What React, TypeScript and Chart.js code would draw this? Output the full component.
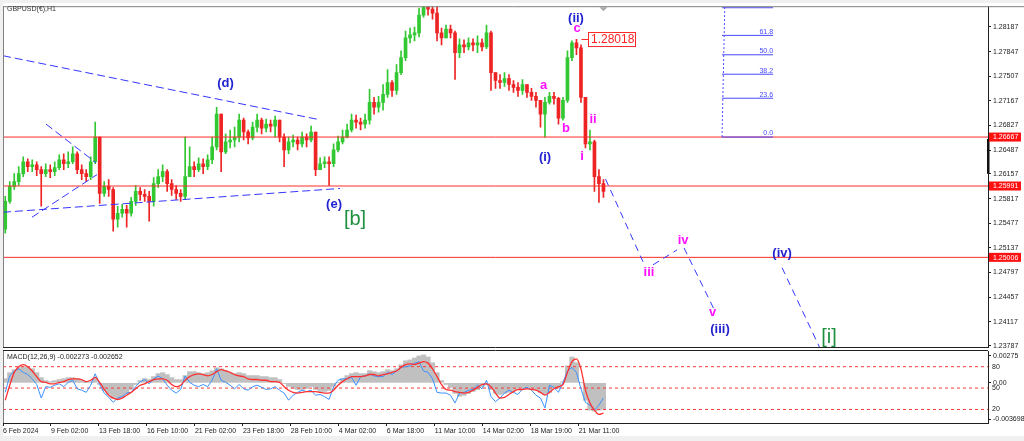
import React, { useEffect, useRef } from 'react';
import { Chart, registerables } from 'chart.js';

Chart.register(...registerables);

// ---------- DATA ----------
const BAR_HOURS = 6; // each drawn candle aggregates 6 H1 bars
const FIRST_OPEN = 1.25396;
const CLOSES = [
  1.25779, 1.25985, 1.26051, 1.26162, 1.26326, 1.26258, 1.26285, 1.26217, 1.26162, 1.26217,
  1.26189, 1.26244, 1.26354, 1.26299, 1.26326, 1.26436, 1.26217, 1.26162, 1.26121, 1.26326,
  1.26667, 1.25889, 1.25985, 1.25943, 1.25533, 1.25615, 1.25670, 1.25615, 1.25779, 1.25916,
  1.25875, 1.25847, 1.25779, 1.26025, 1.26121, 1.26189, 1.26025, 1.25943, 1.25889, 1.25847,
  1.26121, 1.26258, 1.26217, 1.26299, 1.26258, 1.26354, 1.26531, 1.26983, 1.26463, 1.26600,
  1.26627, 1.26667, 1.26901, 1.26737, 1.26655, 1.26805, 1.26901, 1.26791, 1.26846, 1.26819,
  1.26901, 1.26667, 1.26490, 1.26600, 1.26627, 1.26573, 1.26667, 1.26627, 1.26737, 1.26217,
  1.26299, 1.26326, 1.26299, 1.26490, 1.26600, 1.26667, 1.26764, 1.26901, 1.26873, 1.26846,
  1.26901, 1.27147, 1.27079, 1.27147, 1.27257, 1.27421, 1.27311, 1.27557, 1.27763, 1.28036,
  1.28077, 1.28105, 1.28351, 1.28460, 1.28433, 1.28378, 1.28105, 1.28036, 1.28159, 1.28105,
  1.27831, 1.27941, 1.27913, 1.27968, 1.27941, 1.27968, 1.27913, 1.28105, 1.27557, 1.27448,
  1.27421, 1.27475, 1.27393, 1.27352, 1.27311, 1.27393, 1.27284, 1.27229, 1.27174, 1.26983,
  1.27147, 1.27229, 1.27202, 1.26928, 1.27174, 1.27763, 1.27968, 1.27899, 1.27215, 1.26573,
  1.26600, 1.26121, 1.26025, 1.25916,
];
const HIGHS = [
  1.25847, 1.26051, 1.26162, 1.26258, 1.26395, 1.26367, 1.26354, 1.26326, 1.26258, 1.26299,
  1.26285, 1.26326, 1.26422, 1.26436, 1.26463, 1.26531, 1.26463, 1.26285, 1.26217, 1.26395,
  1.26873, 1.26667, 1.26051, 1.26080, 1.25971, 1.25711, 1.25738, 1.25724, 1.25834, 1.25998,
  1.25971, 1.25943, 1.25916, 1.26107, 1.26217, 1.26285, 1.26217, 1.26080, 1.25998, 1.25943,
  1.26667, 1.26531, 1.26326, 1.26381, 1.26367, 1.26422, 1.26667, 1.27079, 1.26901, 1.26710,
  1.26764, 1.26805, 1.26983, 1.26928, 1.26764, 1.26873, 1.26983, 1.26928, 1.26915, 1.26901,
  1.26955, 1.26901, 1.26710, 1.26667, 1.26696, 1.26667, 1.26737, 1.26710, 1.26819, 1.26737,
  1.26381, 1.26395, 1.26395, 1.26573, 1.26682, 1.26764, 1.26846, 1.26983, 1.26969, 1.26928,
  1.26983, 1.27325, 1.27215, 1.27229, 1.27393, 1.27599, 1.27448, 1.27667, 1.27858, 1.28132,
  1.28173, 1.28187, 1.28447, 1.28789, 1.28789, 1.28652, 1.28474, 1.28173, 1.28214, 1.28214,
  1.28132, 1.28023, 1.28009, 1.28036, 1.28023, 1.28064, 1.28023, 1.28214, 1.28132, 1.27557,
  1.27530, 1.27557, 1.27530, 1.27448, 1.27421, 1.27462, 1.27393, 1.27339, 1.27284, 1.27174,
  1.27215, 1.27284, 1.27284, 1.27215, 1.27215, 1.27858, 1.27995, 1.28018, 1.27941, 1.27215,
  1.26764, 1.26627, 1.26217, 1.26080,
];
const LOWS = [
  1.25341, 1.25752, 1.25943, 1.25998, 1.26121, 1.26189, 1.26189, 1.26135, 1.25711, 1.26121,
  1.26107, 1.26135, 1.26217, 1.26217, 1.26244, 1.26299, 1.26162, 1.26080, 1.26051, 1.26080,
  1.26299, 1.25752, 1.25847, 1.25847, 1.25369, 1.25423, 1.25560, 1.25423, 1.25574, 1.25724,
  1.25793, 1.25779, 1.25505, 1.25711, 1.25971, 1.26051, 1.25916, 1.25861, 1.25806, 1.25779,
  1.25806, 1.26162, 1.26121, 1.26189, 1.26162, 1.26217, 1.26299, 1.26490, 1.26189, 1.26436,
  1.26518, 1.26531, 1.26600, 1.26627, 1.26573, 1.26627, 1.26737, 1.26710, 1.26737, 1.26737,
  1.26667, 1.26600, 1.26258, 1.26436, 1.26531, 1.26490, 1.26531, 1.26531, 1.26600, 1.26135,
  1.26217, 1.26244, 1.25998, 1.26258, 1.26463, 1.26573, 1.26655, 1.26737, 1.26791, 1.26764,
  1.26791, 1.26846, 1.26983, 1.27010, 1.27037, 1.27215, 1.27229, 1.27257, 1.27530, 1.27722,
  1.27968, 1.27995, 1.28050, 1.28323, 1.28351, 1.28296, 1.27995, 1.27941, 1.28077, 1.28036,
  1.27462, 1.27763, 1.27831, 1.27872, 1.27858, 1.27831, 1.27858, 1.27886, 1.27311, 1.27339,
  1.27339, 1.27366, 1.27311, 1.27284, 1.27229, 1.27257, 1.27215, 1.27174, 1.27079, 1.26805,
  1.26667, 1.27120, 1.27120, 1.26846, 1.26901, 1.27147, 1.27722, 1.27804, 1.27147, 1.26518,
  1.26490, 1.25916, 1.25765, 1.25834,
];
const MACD_HIST = [
  0.00043, 0.00104, 0.00134, 0.00154, 0.00164, 0.00164, 0.00144, 0.00104, 0.00053, 0.00023,
  0.00013, 0.00023, 0.00033, 0.00043, 0.00053, 0.00053, 0.00043, 0.00023, 0.00003, 0.00013,
  0.00053, -0.00017, -0.00078, -0.00118, -0.00158, -0.00168, -0.00148, -0.00118, -0.00068, -0.00017,
  0.00023, 0.00043, 0.00033, 0.00064, 0.00094, 0.00104, 0.00084, 0.00053, 0.00033, 0.00033,
  0.00074, 0.00114, 0.00114, 0.00104, 0.00094, 0.00104, 0.00124, 0.00154, 0.00144, 0.00124,
  0.00104, 0.00094, 0.00104, 0.00094, 0.00074, 0.00074, 0.00074, 0.00064, 0.00064, 0.00053,
  0.00053, 0.00033, -0.00007, -0.00037, -0.00057, -0.00068, -0.00068, -0.00057, -0.00037, -0.00068,
  -0.00088, -0.00088, -0.00078, -0.00037, 0.00003, 0.00043, 0.00074, 0.00094, 0.00104, 0.00094,
  0.00094, 0.00124, 0.00114, 0.00104, 0.00114, 0.00134, 0.00124, 0.00144, 0.00184, 0.00225,
  0.00234, 0.00254, 0.00275, 0.00285, 0.00264, 0.00205, 0.00104, 0.00023, -0.00017, -0.00047,
  -0.00108, -0.00138, -0.00128, -0.00108, -0.00088, -0.00068, -0.00037, -0.00017, -0.00068, -0.00108,
  -0.00118, -0.00108, -0.00098, -0.00078, -0.00057, -0.00047, -0.00047, -0.00057, -0.00068, -0.00098,
  -0.00118, -0.00098, -0.00057, -0.00057, 0.00013, 0.00174, 0.00264, 0.00205, 0.00003, -0.00178,
  -0.00279, -0.00289, -0.00279, -0.00269,
];
const OSC_BLUE = [
  44, 67, 74, 77, 72, 69, 63, 55, 36, 52, 51, 54, 56, 52, 58, 61, 49, 47, 44, 54,
  70, 55, 43, 37, 30, 36, 38, 43, 44, 52, 59, 62, 56, 63, 67, 63, 54, 47, 43, 48,
  67, 58, 54, 52, 55, 52, 61, 77, 61, 58, 54, 49, 55, 49, 47, 52, 54, 51, 48, 49,
  52, 47, 43, 33, 40, 44, 47, 45, 47, 40, 41, 38, 34, 52, 61, 63, 63, 65, 54, 66,
  67, 70, 67, 66, 66, 72, 69, 74, 79, 80, 81, 85, 87, 74, 72, 63, 44, 43, 43, 40,
  29, 43, 44, 47, 48, 54, 49, 61, 38, 31, 36, 43, 47, 44, 41, 49, 51, 47, 40, 36,
  22, 54, 51, 44, 58, 74, 79, 72, 49, 30, 26, 19, 26, 36,
];
const OSC_RED = [
  33, 54, 72, 80, 83, 80, 74, 66, 59, 58, 56, 56, 58, 59, 62, 63, 63, 62, 59, 61,
  65, 58, 48, 40, 36, 34, 36, 40, 44, 49, 54, 56, 59, 62, 63, 63, 61, 55, 52, 54,
  61, 66, 69, 70, 69, 67, 69, 73, 76, 74, 72, 69, 67, 66, 63, 62, 62, 61, 61, 59,
  59, 58, 52, 47, 44, 43, 44, 45, 45, 45, 44, 43, 43, 47, 54, 59, 63, 66, 66, 66,
  67, 69, 69, 67, 69, 70, 72, 74, 79, 83, 84, 83, 85, 87, 85, 77, 66, 55, 48, 47,
  45, 44, 43, 44, 47, 51, 55, 56, 52, 43, 36, 37, 41, 45, 48, 48, 49, 48, 47, 44,
  40, 44, 49, 52, 55, 72, 87, 91, 77, 47, 29, 19, 13, 15,
];
const PRICE_TICKS = [
  1.28187, 1.27847, 1.27507, 1.27167, 1.26827, 1.26487, 1.26157, 1.25817, 1.25477,
  1.25137, 1.24797, 1.24457, 1.24117, 1.23787,
];
const TIME_TICKS = [0, 64, 128, 192, 256, 320, 384, 448, 512, 576, 640, 704, 768];
const TIME_LABELS = [
  '6 Feb 2024', '9 Feb 02:00', '13 Feb 18:00', '16 Feb 10:00', '21 Feb 02:00',
  '23 Feb 18:00', '28 Feb 10:00', '4 Mar 02:00', '6 Mar 18:00', '11 Mar 10:00',
  '14 Mar 02:00', '18 Mar 19:00', '21 Mar 11:00',
];
const LEVEL_PRICES = [1.26667, 1.25991, 1.25006];
const OSC_LEVELS = [80, 50, 20];
const MACD_TICKS = [0.00275, 0, -0.003698];
const MACD_TICK_LABELS = ['0.00275', '0.00', '-0.003698'];
const FIB_LEVELS = [0, 23.6, 38.2, 50, 61.8, 78.6];
const FIB_LOW = 1.26667;
const FIB_HIGH = 1.28939;
const FIB_X = [959.2, 1027.3];
const FIB_TOP_X = 963.8;
const PEAK_PRICE = 1.28018;
const PEAK_BAR = 127;
const QUOTE_RANGE = [1.2616, 1.2664];
// wave structure lines: [x (H1 bar index), price] pairs
const TRIANGLE_LINES = [
  [[0, 1.2779], [418.9, 1.26914]],
  [[0, 1.25629], [449.6, 1.25957]],
  [[57.4, 1.26846], [124.1, 1.26312]],
  [[38.7, 1.2556], [125.4, 1.26148]],
];
const PROJECTION_LINES = [
  [[803.8, 1.26087], [853.8, 1.24945]],
  [[867.2, 1.24903], [899.2, 1.25109]],
  [[908.5, 1.25136], [949.9, 1.2426]],
  [[1039.3, 1.24862], [1094.7, 1.23645]],
];
const WAVE_LABELS = [
  { text: '(d)', x: 296.8, y: 1.27407, kind: 'blue' },
  { text: '(e)', x: 441.6, y: 1.25738, kind: 'blue' },
  { text: '[b]', x: 469.6, y: 1.25533, kind: 'green' },
  { text: '(ii)', x: 764.4, y: 1.2831, kind: 'blue' },
  { text: 'c', x: 765.8, y: 1.28173, kind: 'pink' },
  { text: 'a', x: 721.1, y: 1.27386, kind: 'pink' },
  { text: 'b', x: 751.1, y: 1.26791, kind: 'pink' },
  { text: '(i)', x: 723.1, y: 1.26381, kind: 'blue' },
  { text: 'ii', x: 787.1, y: 1.26914, kind: 'pink' },
  { text: 'i', x: 772.4, y: 1.26395, kind: 'pink' },
  { text: 'iii', x: 861.8, y: 1.24794, kind: 'pink' },
  { text: 'iv', x: 907.2, y: 1.25245, kind: 'pink' },
  { text: 'v', x: 946.5, y: 1.24247, kind: 'pink' },
  { text: '(iii)', x: 956.5, y: 1.24014, kind: 'blue' },
  { text: '(iv)', x: 1039.3, y: 1.25054, kind: 'blue' },
  { text: '[i]', x: 1102.0, y: 1.23905, kind: 'green' },
];

// ---------- STYLE ----------
const X_MAX = 1314;
const FONT = 'Liberation Sans';
const UP = '#32c832';
const DOWN = '#ee2424';
const LINE_BLUE = '#3535ff';
const LABEL_STYLE: Record<string, { color: string; font: string }> = {
  blue: { color: '#2222d2', font: `bold 13px "${FONT}"` },
  pink: { color: '#ff10ff', font: `bold 13px "${FONT}"` },
  green: { color: '#1f9040', font: `20px "${FONT}"` },
};

const barX = (i: number) => i * BAR_HOURS + BAR_HOURS / 2;

function candles() {
  const wicks: any[] = [];
  const bodies: any[] = [];
  const colors: string[] = [];
  CLOSES.forEach((c, i) => {
    const o = i === 0 ? FIRST_OPEN : CLOSES[i - 1];
    const hi = Math.max(HIGHS[i], o, c);
    const lo = Math.min(LOWS[i], o, c);
    wicks.push({ x: barX(i), y: [lo, hi] });
    bodies.push({ x: barX(i), y: [o, c] });
    colors.push(c >= o ? UP : DOWN);
  });
  return { wicks, bodies, colors };
}

const seg = (pts: number[][], color: string, dash: number[], width = 1) => ({
  type: 'line' as const,
  data: pts.map(([x, y]) => ({ x, y })),
  borderColor: color,
  borderWidth: width,
  borderDash: dash,
  pointRadius: 0,
  fill: false,
  tension: 0,
});

function mainConfig(): any {
  const { wicks, bodies, colors } = candles();
  const fibPrice = (l: number) => FIB_LOW + (FIB_HIGH - FIB_LOW) * (l / 100);
  const datasets: any[] = [
    ...TRIANGLE_LINES.map((p) => seg(p, LINE_BLUE, [8, 4])),
    ...PROJECTION_LINES.map((p) => seg(p, LINE_BLUE, [7, 5])),
    seg([[FIB_X[0], FIB_LOW], [FIB_TOP_X, FIB_HIGH]], '#4848ff', [2, 2]),
    ...FIB_LEVELS.map((l) => seg([[FIB_X[0], fibPrice(l)], [FIB_X[1], fibPrice(l)]], '#4848ff', [])),
    ...LEVEL_PRICES.map((p) => seg([[0, p], [X_MAX, p]], '#ff2a2a', [])),
    {
      type: 'bar', data: bodies, backgroundColor: colors, barThickness: 3, minBarLength: 1,
      grouped: false, borderWidth: 0,
    },
    {
      type: 'bar', data: wicks, backgroundColor: colors, barThickness: 1,
      grouped: false, borderWidth: 0,
    },
  ];

  const decor = {
    id: 'mainDecor',
    afterDatasetsDraw(chart: any) {
      const { ctx, chartArea: a, scales } = chart;
      const x = scales.x, y = scales.y;
      ctx.save();
      ctx.beginPath();
      ctx.rect(a.left, a.top, a.right - a.left, a.bottom - a.top);
      ctx.clip();
      // fib labels
      ctx.font = `7px "${FONT}"`;
      ctx.fillStyle = '#4848ff';
      ctx.textAlign = 'right';
      ctx.textBaseline = 'bottom';
      FIB_LEVELS.forEach((l) => {
        const py = y.getPixelForValue(fibPrice(l));
        ctx.fillText(l.toFixed(1), x.getPixelForValue(FIB_X[1]), py);
      });
      // wave labels
      ctx.textAlign = 'center';
      ctx.textBaseline = 'middle';
      WAVE_LABELS.forEach((lb) => {
        const st = LABEL_STYLE[lb.kind];
        ctx.font = st.font;
        ctx.fillStyle = st.color;
        ctx.fillText(lb.text, x.getPixelForValue(lb.x), y.getPixelForValue(lb.y));
      });
      // peak price label
      const px = x.getPixelForValue(barX(PEAK_BAR));
      const py = Math.round(y.getPixelForValue(PEAK_PRICE)) + 0.5;
      ctx.strokeStyle = '#ff2a2a';
      ctx.lineWidth = 1;
      ctx.beginPath();
      ctx.moveTo(px + 5, py);
      ctx.lineTo(px + 12, py);
      ctx.stroke();
      ctx.fillStyle = '#ffffff';
      ctx.fillRect(px + 12, py - 7, 47, 14);
      ctx.strokeRect(Math.round(px + 12) + 0.5, py - 7, 47, 14);
      ctx.font = `12px "${FONT}"`;
      ctx.fillStyle = '#ff2020';
      ctx.textAlign = 'left';
      ctx.fillText(PEAK_PRICE.toFixed(5), px + 14.5, py + 0.5);
      // shift marker
      const mx = x.getPixelForValue(barX(CLOSES.length - 1));
      ctx.fillStyle = '#a8a8a8';
      ctx.beginPath();
      ctx.moveTo(mx - 4, a.top + 1);
      ctx.lineTo(mx + 4, a.top + 1);
      ctx.lineTo(mx, a.top + 5);
      ctx.closePath();
      ctx.fill();
      ctx.restore();
    },
    afterDraw(chart: any) {
      const { ctx, chartArea: a, scales } = chart;
      const y = scales.y;
      ctx.save();
      // frame
      ctx.strokeStyle = '#808080';
      ctx.lineWidth = 1;
      ctx.beginPath();
      ctx.moveTo(a.left + 0.5, a.top);
      ctx.lineTo(a.left + 0.5, a.bottom);
      ctx.moveTo(a.left, a.top + 0.5);
      ctx.lineTo(1024, a.top + 0.5);
      ctx.stroke();
      ctx.strokeStyle = '#202020';
      ctx.beginPath();
      ctx.moveTo(a.left, a.bottom + 0.5);
      ctx.lineTo(a.right, a.bottom + 0.5);
      ctx.stroke();
      // quote range marker on axis
      const y1 = y.getPixelForValue(QUOTE_RANGE[1]);
      const y0 = y.getPixelForValue(QUOTE_RANGE[0]);
      ctx.fillStyle = '#111';
      ctx.fillRect(a.right - 1, y1, 2.5, y0 - y1);
      // level price boxes
      ctx.font = `7px "${FONT}"`;
      ctx.textAlign = 'left';
      ctx.textBaseline = 'middle';
      LEVEL_PRICES.forEach((p) => {
        const py = y.getPixelForValue(p);
        ctx.fillStyle = '#ff1010';
        ctx.fillRect(a.right + 1, py - 4.5, 32, 9);
        ctx.fillStyle = '#ffffff';
        ctx.fillText(p.toFixed(5), a.right + 5, py + 0.5);
      });
      // header
      ctx.fillStyle = '#333';
      ctx.font = `7px "${FONT}"`;
      ctx.textBaseline = 'middle';
      ctx.fillText('GBPUSD(€),H1', 7, 9.5);
      ctx.restore();
    },
  };

  return {
    type: 'bar',
    data: { datasets },
    plugins: [decor],
    options: {
      animation: false,
      responsive: false,
      devicePixelRatio: 1,
      layout: { padding: { left: 3, top: 3, right: 0, bottom: 94 }, autoPadding: false },
      plugins: { legend: { display: false }, tooltip: { enabled: false } },
      scales: {
        x: { type: 'linear', min: 0, max: X_MAX, display: false, offset: false, grid: { offset: false } },
        y: {
          position: 'right',
          min: 1.23768,
          max: 1.28474,
          afterFit: (s: any) => { s.width = 36; },
          afterBuildTicks: (s: any) => { s.ticks = PRICE_TICKS.map((v) => ({ value: v })); },
          ticks: {
            callback: (v: any) => Number(v).toFixed(5),
            font: { family: FONT, size: 7 },
            color: '#222',
            padding: 2,
            autoSkip: false,
          },
          grid: { drawOnChartArea: false, drawTicks: true, tickLength: 3, color: '#222' },
          border: { display: true, color: '#202020' },
        },
      },
    },
  };
}

function subConfig(): any {
  const hist = MACD_HIST.map((v, i) => ({ x: barX(i), y: v }));
  const blue = OSC_BLUE.map((v, i) => ({ x: barX(i), y: v }));
  const red = OSC_RED.map((v, i) => ({ x: barX(i), y: v }));
  const datasets: any[] = [
    { type: 'line', data: red, yAxisID: 's', borderColor: '#ff3030', borderWidth: 1.3, pointRadius: 0, cubicInterpolationMode: 'monotone' },
    { type: 'line', data: blue, yAxisID: 's', borderColor: '#3a92ff', borderWidth: 1, pointRadius: 0, tension: 0 },
    ...OSC_LEVELS.map((l) => ({
      type: 'line', data: [{ x: 0, y: l }, { x: X_MAX, y: l }], yAxisID: 's',
      borderColor: '#ff3a3a', borderWidth: 1, borderDash: [3, 3], pointRadius: 0,
    })),
    {
      type: 'bar', data: hist, yAxisID: 'm', backgroundColor: '#c0c0c0',
      barPercentage: 1, categoryPercentage: 1, borderWidth: 0, grouped: false,
    },
  ];

  const decor = {
    id: 'subDecor',
    afterDraw(chart: any) {
      const { ctx, chartArea: a, scales } = chart;
      ctx.save();
      ctx.strokeStyle = '#202020';
      ctx.lineWidth = 1;
      ctx.beginPath();
      ctx.moveTo(a.left, a.top - 0.5);
      ctx.lineTo(a.right, a.top - 0.5);
      ctx.stroke();
      ctx.strokeStyle = '#808080';
      ctx.beginPath();
      ctx.moveTo(a.left + 0.5, a.top);
      ctx.lineTo(a.left + 0.5, a.bottom);
      ctx.stroke();
      ctx.font = `7px "${FONT}"`;
      ctx.fillStyle = '#222';
      ctx.textAlign = 'left';
      ctx.textBaseline = 'middle';
      ctx.fillText('MACD(12,26,9) -0.002273 -0.002652', 7, a.top + 6);
      OSC_LEVELS.forEach((l) => {
        ctx.fillText(String(l), a.right + 4, scales.s.getPixelForValue(l));
      });
      ctx.restore();
    },
  };

  return {
    type: 'bar',
    data: { datasets },
    plugins: [decor],
    options: {
      animation: false,
      responsive: false,
      devicePixelRatio: 1,
      layout: { padding: { left: 3, top: 351, right: 0, bottom: 4 }, autoPadding: false },
      plugins: { legend: { display: false }, tooltip: { enabled: false } },
      scales: {
        x: {
          type: 'linear', min: 0, max: X_MAX, position: 'bottom', offset: false,
          afterFit: (s: any) => { s.height = 14; },
          afterBuildTicks: (s: any) => { s.ticks = TIME_TICKS.map((v) => ({ value: v })); },
          ticks: {
            callback: (_v: any, i: number) => TIME_LABELS[i],
            align: 'start', autoSkip: false, maxRotation: 0, minRotation: 0,
            font: { family: FONT, size: 7 }, color: '#222', padding: 1,
          },
          grid: { drawOnChartArea: false, offset: false, tickLength: 3, color: '#222' },
          border: { display: true, color: '#202020' },
        },
        m: {
          position: 'right', min: -0.0041, max: 0.00325,
          afterFit: (s: any) => { s.width = 36; },
          afterBuildTicks: (s: any) => { s.ticks = MACD_TICKS.map((v) => ({ value: v })); },
          ticks: {
            callback: (_v: any, i: number) => MACD_TICK_LABELS[i],
            font: { family: FONT, size: 7 }, color: '#222', padding: 2, autoSkip: false,
          },
          grid: { drawOnChartArea: false, tickLength: 3, color: '#222' },
          border: { display: true, color: '#202020' },
        },
        s: { display: false, min: 1, max: 102 },
      },
    },
  };
}

export default function App() {
  const mainRef = useRef<HTMLCanvasElement>(null);
  const subRef = useRef<HTMLCanvasElement>(null);
  useEffect(() => {
    const main = new Chart(mainRef.current as HTMLCanvasElement, mainConfig());
    const sub = new Chart(subRef.current as HTMLCanvasElement, subConfig());
    return () => {
      main.destroy();
      sub.destroy();
    };
  }, []);
  const cs: React.CSSProperties = { position: 'absolute', left: 0, top: 0, width: 1024, height: 441 };
  return (
    <div style={{ position: 'fixed', left: 0, top: 0, width: 1024, height: 441, background: '#f0f0f0', overflow: 'hidden' }}>
      <div style={{ position: 'absolute', left: 3, top: 3, width: 1021, height: 433, background: '#ffffff' }} />
      <canvas ref={mainRef} width={1024} height={441} style={cs} />
      <canvas ref={subRef} width={1024} height={441} style={cs} />
    </div>
  );
}
